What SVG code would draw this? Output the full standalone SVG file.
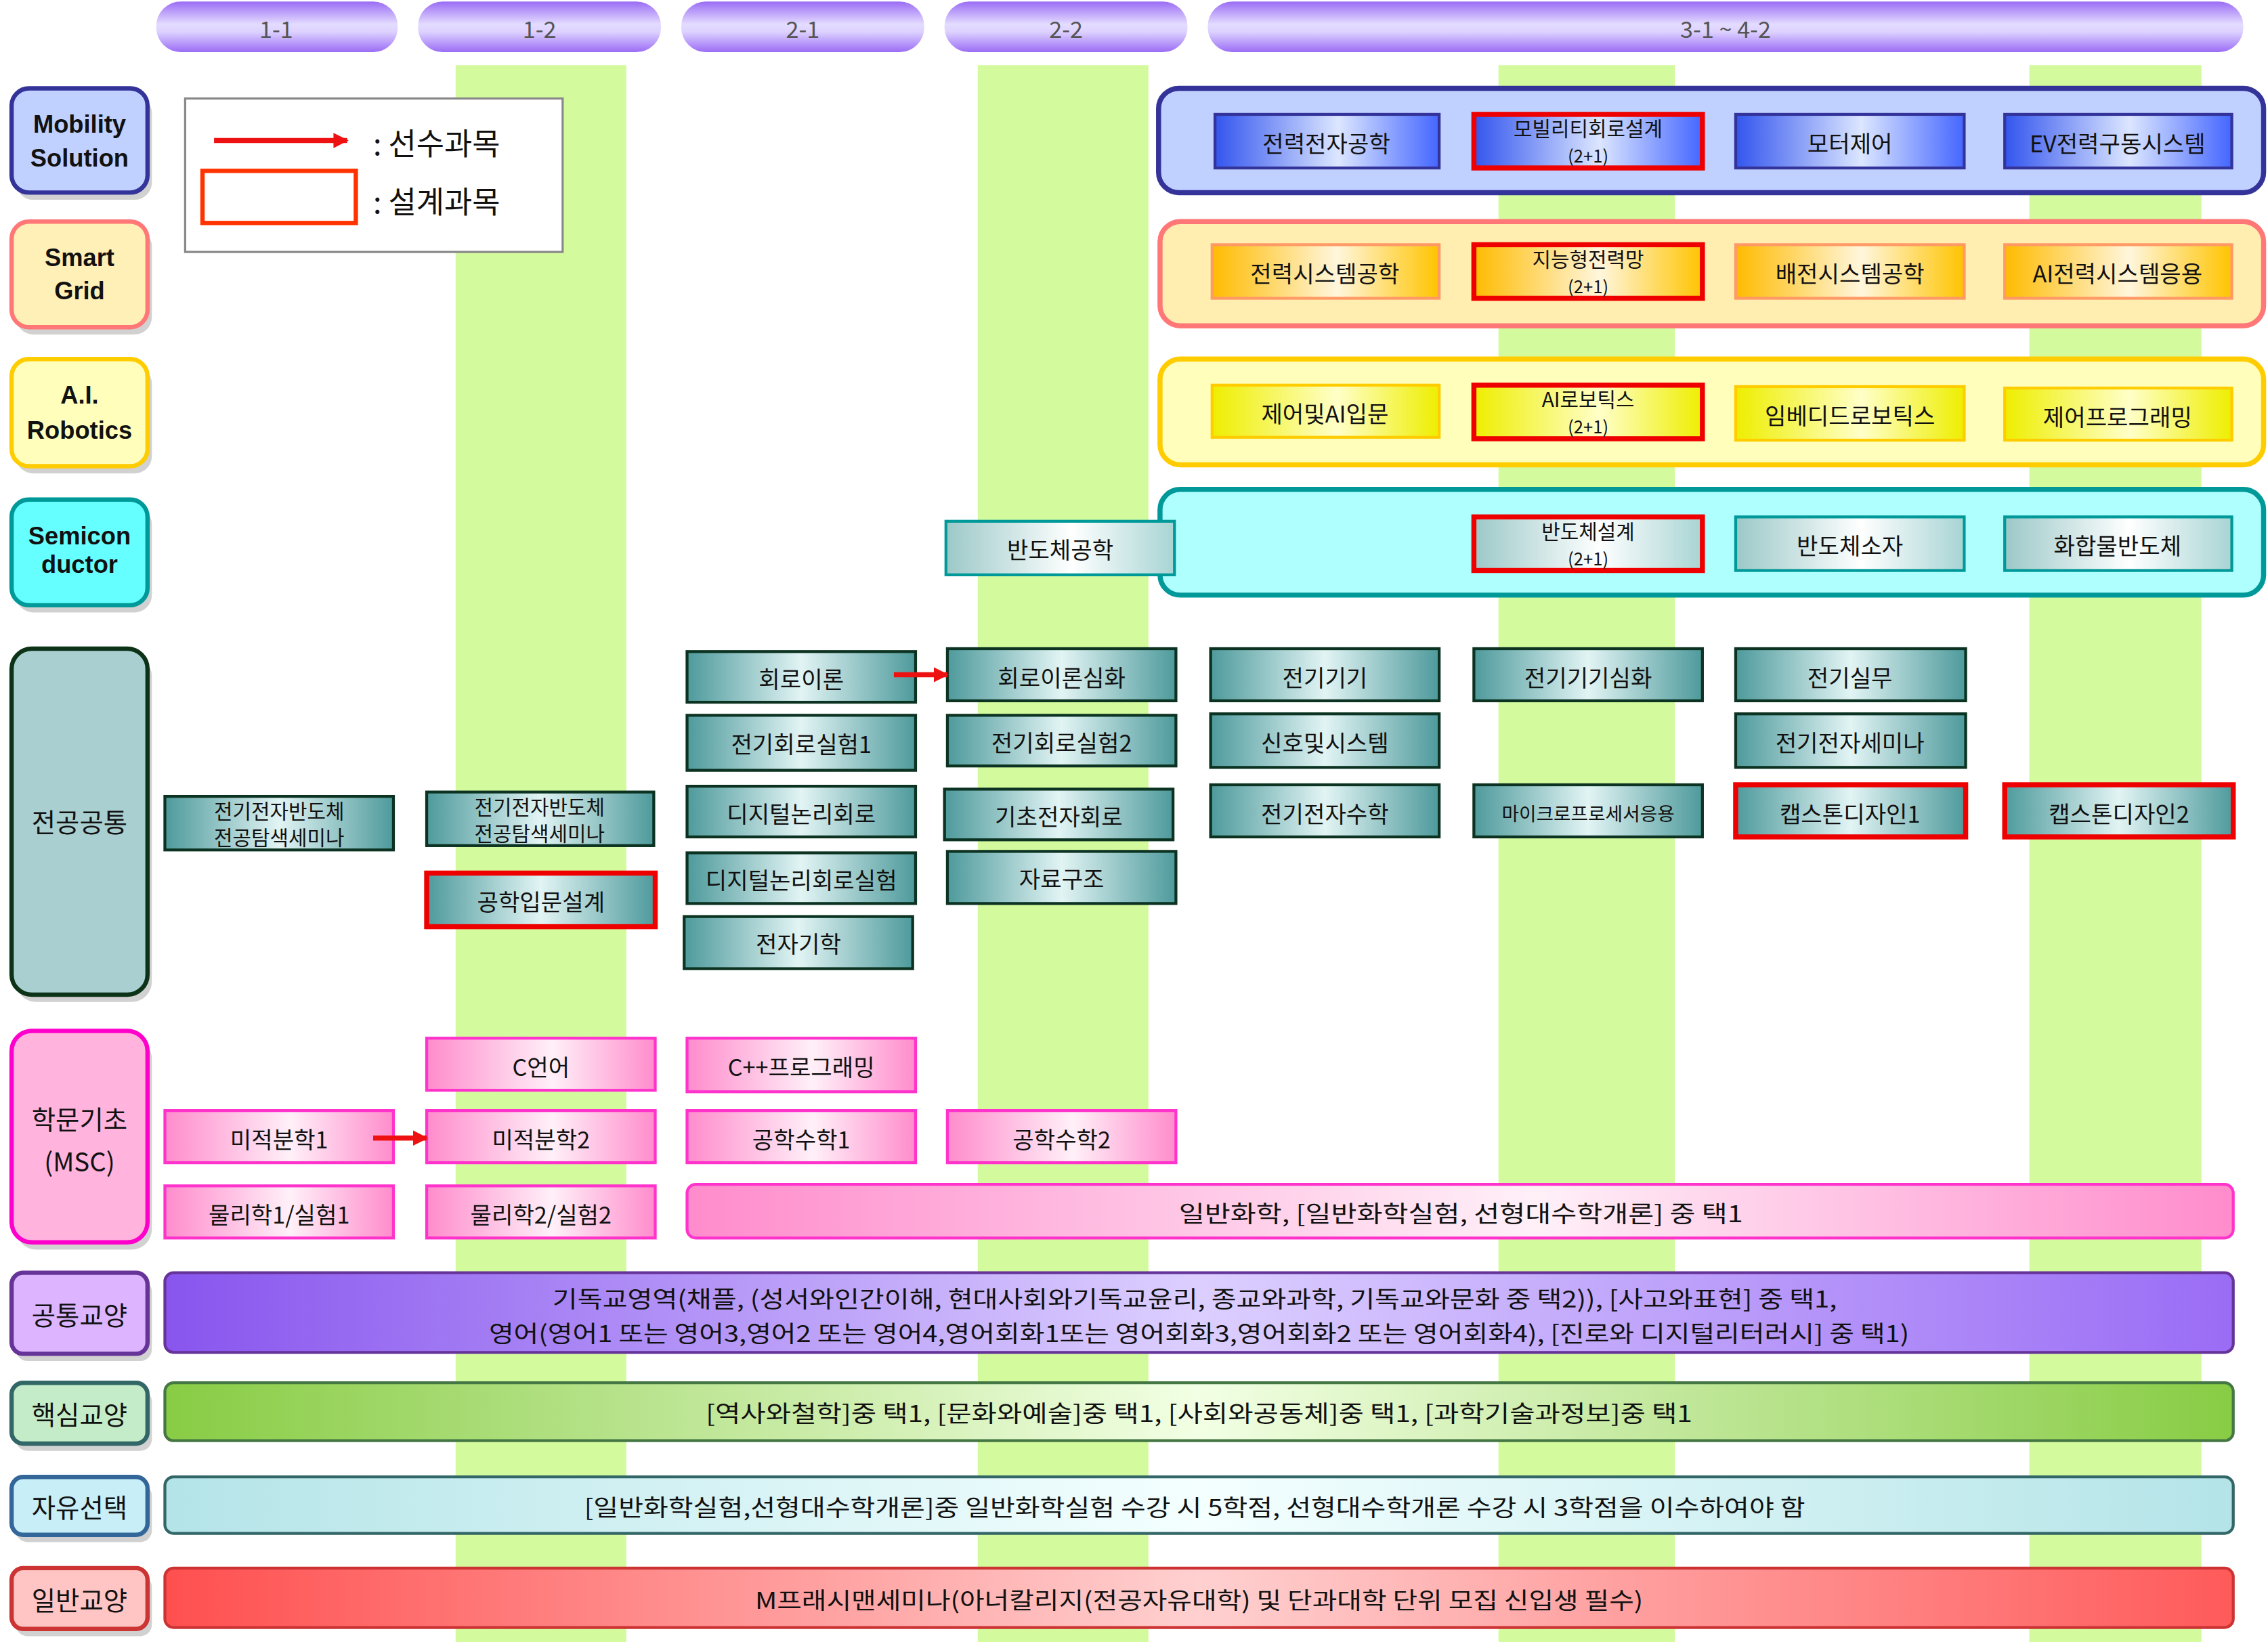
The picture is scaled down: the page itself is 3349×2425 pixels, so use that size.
<svg xmlns="http://www.w3.org/2000/svg" width="3349" height="2425" viewBox="0 0 3349 2425">
<defs>
<linearGradient id="gHead" x1="0" y1="0" x2="0" y2="1"><stop offset="0" stop-color="#9a6cf5"/><stop offset="0.45" stop-color="#e4dcff"/><stop offset="0.6" stop-color="#ddd2ff"/><stop offset="1" stop-color="#9a6cf5"/></linearGradient>
<linearGradient id="gBlue"><stop offset="0" stop-color="#3355ee"/><stop offset="0.55" stop-color="#dce6ff"/><stop offset="1" stop-color="#4466ff"/></linearGradient>
<linearGradient id="gOrange"><stop offset="0" stop-color="#ffbb00"/><stop offset="0.55" stop-color="#fff6dc"/><stop offset="1" stop-color="#ffc400"/></linearGradient>
<linearGradient id="gYellow"><stop offset="0" stop-color="#eeee00"/><stop offset="0.55" stop-color="#ffffc8"/><stop offset="1" stop-color="#eeee00"/></linearGradient>
<linearGradient id="gSemi"><stop offset="0" stop-color="#9cc8c8"/><stop offset="0.55" stop-color="#ffffff"/><stop offset="1" stop-color="#a8d4d4"/></linearGradient>
<linearGradient id="gTeal"><stop offset="0" stop-color="#4e9a9c"/><stop offset="0.5" stop-color="#e2f4f4"/><stop offset="1" stop-color="#4e9a9c"/></linearGradient>
<linearGradient id="gPink"><stop offset="0" stop-color="#ff8ccc"/><stop offset="0.55" stop-color="#fff0f8"/><stop offset="1" stop-color="#ff8ccc"/></linearGradient>
<linearGradient id="gPurp"><stop offset="0" stop-color="#8855ee"/><stop offset="0.5" stop-color="#dccfff"/><stop offset="1" stop-color="#9a6cf5"/></linearGradient>
<linearGradient id="gGreen"><stop offset="0" stop-color="#88cc44"/><stop offset="0.5" stop-color="#f2ffe4"/><stop offset="1" stop-color="#88cc44"/></linearGradient>
<linearGradient id="gCyan"><stop offset="0" stop-color="#b4e4e8"/><stop offset="0.5" stop-color="#f4ffff"/><stop offset="1" stop-color="#b4e4e8"/></linearGradient>
<linearGradient id="gRed"><stop offset="0" stop-color="#ff4f4f"/><stop offset="0.5" stop-color="#ffd0d0"/><stop offset="1" stop-color="#ff5a5a"/></linearGradient>
<marker id="arr" viewBox="0 0 10 10" refX="9" refY="5" markerWidth="3" markerHeight="3.4" orient="auto" markerUnits="strokeWidth"><path d="M0,0 L10,5 L0,10 z" fill="#ee1111"/></marker>
</defs>
<style>
text{font-family:"Noto Sans CJK KR","Liberation Sans",sans-serif;font-size:16px;fill:#111;text-anchor:middle;dominant-baseline:central}
.hd{fill:url(#gHead)} .hdt{fill:#555}
.lat{font-family:"Liberation Sans Narrow","Liberation Sans",sans-serif;font-weight:bold;font-size:17px}
.cat{font-size:18px}
.sm{font-size:13px}
.l1{font-size:14px} .l2{font-size:12px} .s2{font-size:14px}
.leg{font-size:21px;text-anchor:start}
.blue{fill:url(#gBlue);stroke:#333399;stroke-width:2}
.org{fill:url(#gOrange);stroke:#ff9966;stroke-width:2}
.yel{fill:url(#gYellow);stroke:#ffcc00;stroke-width:2}
.semi{fill:url(#gSemi);stroke:#009999;stroke-width:2}
.teal{fill:url(#gTeal);stroke:#0c3322;stroke-width:2}
.pink{fill:url(#gPink);stroke:#ff33cc;stroke-width:2}
.des{stroke:#ee0000;stroke-width:3.5}
.conn{stroke:#ee1111;stroke-width:3.5;fill:none;marker-end:url(#arr)}
.shadow{fill:#000;opacity:0.18}
</style>
<rect width="3349" height="2425" fill="#fff"/>
<g transform="scale(2.1358,2.1384)">
<g id="stripes" fill="#d4fa9e">
<rect x="315" y="45" width="118" height="1089"/>
<rect x="676" y="45" width="118" height="1089"/>
<rect x="1036" y="45" width="122" height="1089"/>
<rect x="1403" y="45" width="119" height="1089"/>
</g>
<g id="headers">
<rect class="hd" x="108" y="1" width="167" height="35" rx="17"/><text class="hdt" x="191" y="19">1-1</text>
<rect class="hd" x="289" y="1" width="168" height="35" rx="17"/><text class="hdt" x="373" y="19">1-2</text>
<rect class="hd" x="471" y="1" width="168" height="35" rx="17"/><text class="hdt" x="555" y="19">2-1</text>
<rect class="hd" x="653" y="1" width="168" height="35" rx="17"/><text class="hdt" x="737" y="19">2-2</text>
<rect class="hd" x="835" y="1" width="716" height="35" rx="17"/><text class="hdt" x="1193" y="19">3-1 ~ 4-2</text>
</g>
<g id="legend">
<rect x="128" y="68" width="261" height="106" fill="#fff" stroke="#888" stroke-width="1.5"/>
<line x1="148" y1="97" x2="240" y2="97" class="conn" stroke-width="3"/>
<rect x="140" y="118" width="106" height="36" fill="none" stroke="#ff3300" stroke-width="3"/>
<text class="leg" x="258" y="98">: 선수과목</text>
<text class="leg" x="258" y="138">: 설계과목</text>
</g>
<g id="categories">
<g id="cat-mobility"><rect class="shadow" x="11" y="66" width="94" height="72" rx="12"/><rect x="8" y="61" width="94" height="72" rx="12" fill="#c0d0ff" stroke="#333399" stroke-width="3"/><text class="lat" x="55" y="86">Mobility</text><text class="lat" x="55" y="109">Solution</text></g>
<g id="cat-smart"><rect class="shadow" x="11" y="158" width="94" height="73" rx="12"/><rect x="8" y="153" width="94" height="73" rx="12" fill="#fff0b8" stroke="#ff7777" stroke-width="3"/><text class="lat" x="55" y="178">Smart</text><text class="lat" x="55" y="201">Grid</text></g>
<g id="cat-ai"><rect class="shadow" x="11" y="253" width="94" height="74" rx="12"/><rect x="8" y="248" width="94" height="74" rx="12" fill="#ffffbb" stroke="#ffcc00" stroke-width="3"/><text class="lat" x="55" y="273">A.I.</text><text class="lat" x="55" y="297">Robotics</text></g>
<g id="cat-semi"><rect class="shadow" x="11" y="350" width="94" height="73" rx="12"/><rect x="8" y="345" width="94" height="73" rx="12" fill="#66ffff" stroke="#009999" stroke-width="3"/><text class="lat" x="55" y="370">Semicon</text><text class="lat" x="55" y="390">ductor</text></g>
<g id="cat-major"><rect class="shadow" x="11" y="453" width="94" height="239" rx="14"/><rect x="8" y="448" width="94" height="239" rx="14" fill="#aacfd0" stroke="#0c3318" stroke-width="3"/><text class="cat" x="55" y="567">전공공통</text></g>
<g id="cat-msc"><rect class="shadow" x="11" y="717" width="94" height="146" rx="14"/><rect x="8" y="712" width="94" height="146" rx="14" fill="#ffb3dd" stroke="#ff00cc" stroke-width="3"/><text class="cat" x="55" y="772">학문기초</text><text class="cat" x="55" y="801">(MSC)</text></g>
<g id="cat-common"><rect class="shadow" x="11" y="884" width="94" height="56" rx="8"/><rect x="8" y="879" width="94" height="56" rx="8" fill="#dcb4ff" stroke="#663399" stroke-width="3"/><text class="cat" x="55" y="907">공통교양</text></g>
<g id="cat-core"><rect class="shadow" x="11" y="960" width="94" height="42" rx="8"/><rect x="8" y="955" width="94" height="42" rx="8" fill="#c4ecc8" stroke="#336666" stroke-width="3"/><text class="cat" x="55" y="976">핵심교양</text></g>
<g id="cat-free"><rect class="shadow" x="11" y="1025" width="94" height="40" rx="8"/><rect x="8" y="1020" width="94" height="40" rx="8" fill="#c8eef8" stroke="#336699" stroke-width="3"/><text class="cat" x="55" y="1040">자유선택</text></g>
<g id="cat-general"><rect class="shadow" x="11" y="1088" width="94" height="42" rx="8"/><rect x="8" y="1083" width="94" height="42" rx="8" fill="#ffc4c4" stroke="#cc3333" stroke-width="3"/><text class="cat" x="55" y="1104">일반교양</text></g>
</g>
<g id="tracks">
<rect x="801" y="61" width="764" height="72" rx="14" fill="#c0d0ff" stroke="#333399" stroke-width="3.5"/>
<rect x="802" y="153" width="763" height="72" rx="14" fill="#ffeeb0" stroke="#ff7777" stroke-width="3.5"/>
<rect x="802" y="248" width="763" height="73" rx="14" fill="#ffffbb" stroke="#ffcc00" stroke-width="3.5"/>
<rect x="802" y="338" width="763" height="73" rx="14" fill="#b0ffff" stroke="#009999" stroke-width="3.5"/>
</g>
<g id="nodes">
<g id="n1"><rect class="blue" x="840" y="79" width="155" height="37"/><text x="917" y="98">전력전자공학</text></g>
<g id="n2"><rect class="blue des" x="1019" y="79" width="158" height="37"/><text class="l1" x="1098" y="88">모빌리티회로설계</text><text class="l2" x="1098" y="107">(2+1)</text></g>
<g id="n3"><rect class="blue" x="1200" y="79" width="158" height="37"/><text x="1279" y="98">모터제어</text></g>
<g id="n4"><rect class="blue" x="1386" y="79" width="157" height="37"/><text x="1464" y="98">EV전력구동시스템</text></g>
<g id="n5"><rect class="org" x="838" y="169" width="157" height="37"/><text x="916" y="188">전력시스템공학</text></g>
<g id="n6"><rect class="org des" x="1019" y="169" width="158" height="37"/><text class="l1" x="1098" y="178">지능형전력망</text><text class="l2" x="1098" y="197">(2+1)</text></g>
<g id="n7"><rect class="org" x="1200" y="169" width="158" height="37"/><text x="1279" y="188">배전시스템공학</text></g>
<g id="n8"><rect class="org" x="1386" y="169" width="157" height="37"/><text x="1464" y="188">AI전력시스템응용</text></g>
<g id="n9"><rect class="yel" x="838" y="266" width="157" height="36"/><text x="916" y="285">제어및AI입문</text></g>
<g id="n10"><rect class="yel des" x="1019" y="266" width="158" height="37"/><text class="l1" x="1098" y="275">AI로보틱스</text><text class="l2" x="1098" y="294">(2+1)</text></g>
<g id="n11"><rect class="yel" x="1200" y="267" width="158" height="37"/><text x="1279" y="286">임베디드로보틱스</text></g>
<g id="n12"><rect class="yel" x="1386" y="268" width="157" height="36"/><text x="1464" y="287">제어프로그래밍</text></g>
<g id="n13"><rect class="semi" x="654" y="360" width="158" height="37"/><text x="733" y="379">반도체공학</text></g>
<g id="n14"><rect class="semi des" x="1019" y="357" width="158" height="37"/><text class="l1" x="1098" y="366">반도체설계</text><text class="l2" x="1098" y="385">(2+1)</text></g>
<g id="n15"><rect class="semi" x="1200" y="357" width="158" height="37"/><text x="1279" y="376">반도체소자</text></g>
<g id="n16"><rect class="semi" x="1386" y="357" width="157" height="37"/><text x="1464" y="376">화합물반도체</text></g>

<g id="m1"><rect class="teal" x="114" y="550" width="158" height="37"/><text class="s2" x="193" y="559.5">전기전자반도체</text><text class="s2" x="193" y="577.5">전공탐색세미나</text></g>
<g id="m2"><rect class="teal" x="295" y="547" width="157" height="37"/><text class="s2" x="373" y="556.5">전기전자반도체</text><text class="s2" x="373" y="574.5">전공탐색세미나</text></g>
<g id="m3"><rect class="teal des" x="295" y="603" width="158" height="37"/><text x="374" y="622">공학입문설계</text></g>
<g id="m4"><rect class="teal" x="475" y="450" width="158" height="35"/><text x="554" y="468">회로이론</text></g>
<g id="m5"><rect class="teal" x="475" y="494" width="158" height="38"/><text x="554" y="513">전기회로실험1</text></g>
<g id="m6"><rect class="teal" x="475" y="543" width="158" height="35"/><text x="554" y="561">디지털논리회로</text></g>
<g id="m7"><rect class="teal" x="475" y="589" width="158" height="35"/><text x="554" y="607">디지털논리회로실험</text></g>
<g id="m8"><rect class="teal" x="473" y="633" width="158" height="36"/><text x="552" y="651">전자기학</text></g>
<g id="m9"><rect class="teal" x="655" y="448" width="158" height="36"/><text x="734" y="467">회로이론심화</text></g>
<g id="m10"><rect class="teal" x="655" y="494" width="158" height="35"/><text x="734" y="512">전기회로실험2</text></g>
<g id="m11"><rect class="teal" x="653" y="545" width="158" height="35"/><text x="732" y="563">기초전자회로</text></g>
<g id="m12"><rect class="teal" x="655" y="588" width="158" height="36"/><text x="734" y="606">자료구조</text></g>
<g id="m13"><rect class="teal" x="837" y="448" width="158" height="36"/><text x="916" y="467">전기기기</text></g>
<g id="m14"><rect class="teal" x="837" y="493" width="158" height="37"/><text x="916" y="512">신호및시스템</text></g>
<g id="m15"><rect class="teal" x="837" y="542" width="158" height="36"/><text x="916" y="561">전기전자수학</text></g>
<g id="m16"><rect class="teal" x="1019" y="448" width="158" height="36"/><text x="1098" y="467">전기기기심화</text></g>
<g id="m17"><rect class="teal" x="1019" y="542" width="158" height="36"/><text class="sm" x="1098" y="561">마이크로프로세서응용</text></g>
<g id="m18"><rect class="teal" x="1200" y="448" width="159" height="36"/><text x="1279" y="467">전기실무</text></g>
<g id="m19"><rect class="teal" x="1200" y="493" width="159" height="37"/><text x="1279" y="512">전기전자세미나</text></g>
<g id="m20"><rect class="teal des" x="1200" y="542" width="159" height="36"/><text x="1279" y="561">캡스톤디자인1</text></g>
<g id="m21"><rect class="teal des" x="1386" y="542" width="158" height="36"/><text x="1465" y="561">캡스톤디자인2</text></g>

<g id="p1"><rect class="pink" x="295" y="717" width="158" height="36"/><text x="374" y="736">C언어</text></g>
<g id="p2"><rect class="pink" x="475" y="717" width="158" height="37"/><text x="554" y="736">C++프로그래밍</text></g>
<g id="p3"><rect class="pink" x="114" y="767" width="158" height="36"/><text x="193" y="786">미적분학1</text></g>
<g id="p4"><rect class="pink" x="295" y="767" width="158" height="36"/><text x="374" y="786">미적분학2</text></g>
<g id="p5"><rect class="pink" x="475" y="767" width="158" height="36"/><text x="554" y="786">공학수학1</text></g>
<g id="p6"><rect class="pink" x="655" y="767" width="158" height="36"/><text x="734" y="786">공학수학2</text></g>
<g id="p7"><rect class="pink" x="114" y="819" width="158" height="36"/><text x="193" y="838">물리학1/실험1</text></g>
<g id="p8"><rect class="pink" x="295" y="819" width="158" height="36"/><text x="374" y="838">물리학2/실험2</text></g>
<g id="p9"><rect class="pink" x="475" y="818" width="1069" height="37" rx="6"/><text x="1010" y="837" textLength="390" lengthAdjust="spacingAndGlyphs">일반화학, [일반화학실험, 선형대수학개론] 중 택1</text></g>

<g id="b1"><rect x="114" y="879" width="1430" height="55" rx="6" fill="url(#gPurp)" stroke="#663399" stroke-width="2"/><text x="826" y="896" textLength="888" lengthAdjust="spacingAndGlyphs">기독교영역(채플, (성서와인간이해, 현대사회와기독교윤리, 종교와과학, 기독교와문화 중 택2)), [사고와표현] 중 택1,</text><text x="829" y="920" textLength="982" lengthAdjust="spacingAndGlyphs">영어(영어1 또는 영어3,영어2 또는 영어4,영어회화1또는 영어회화3,영어회화2 또는 영어회화4), [진로와 디지털리터러시] 중 택1)</text></g>
<g id="b2"><rect x="114" y="955" width="1430" height="40" rx="6" fill="url(#gGreen)" stroke="#447744" stroke-width="2"/><text x="829" y="975" textLength="682" lengthAdjust="spacingAndGlyphs">[역사와철학]중 택1, [문화와예술]중 택1, [사회와공동체]중 택1, [과학기술과정보]중 택1</text></g>
<g id="b3"><rect x="114" y="1020" width="1430" height="39" rx="6" fill="url(#gCyan)" stroke="#336666" stroke-width="2"/><text x="826" y="1040" textLength="844" lengthAdjust="spacingAndGlyphs">[일반화학실험,선형대수학개론]중 일반화학실험 수강 시 5학점, 선형대수학개론 수강 시 3학점을 이수하여야 함</text></g>
<g id="b4"><rect x="114" y="1083" width="1430" height="41" rx="6" fill="url(#gRed)" stroke="#cc3333" stroke-width="2"/><text x="829" y="1104" textLength="614" lengthAdjust="spacingAndGlyphs">M프래시맨세미나(아너칼리지(전공자유대학) 및 단과대학 단위 모집 신입생 필수)</text></g>
</g>
<g id="connectors">
<line class="conn" x1="618" y1="466" x2="655" y2="466"/>
<line class="conn" x1="258" y1="786" x2="295" y2="786"/>
</g>
</g>
</svg>
